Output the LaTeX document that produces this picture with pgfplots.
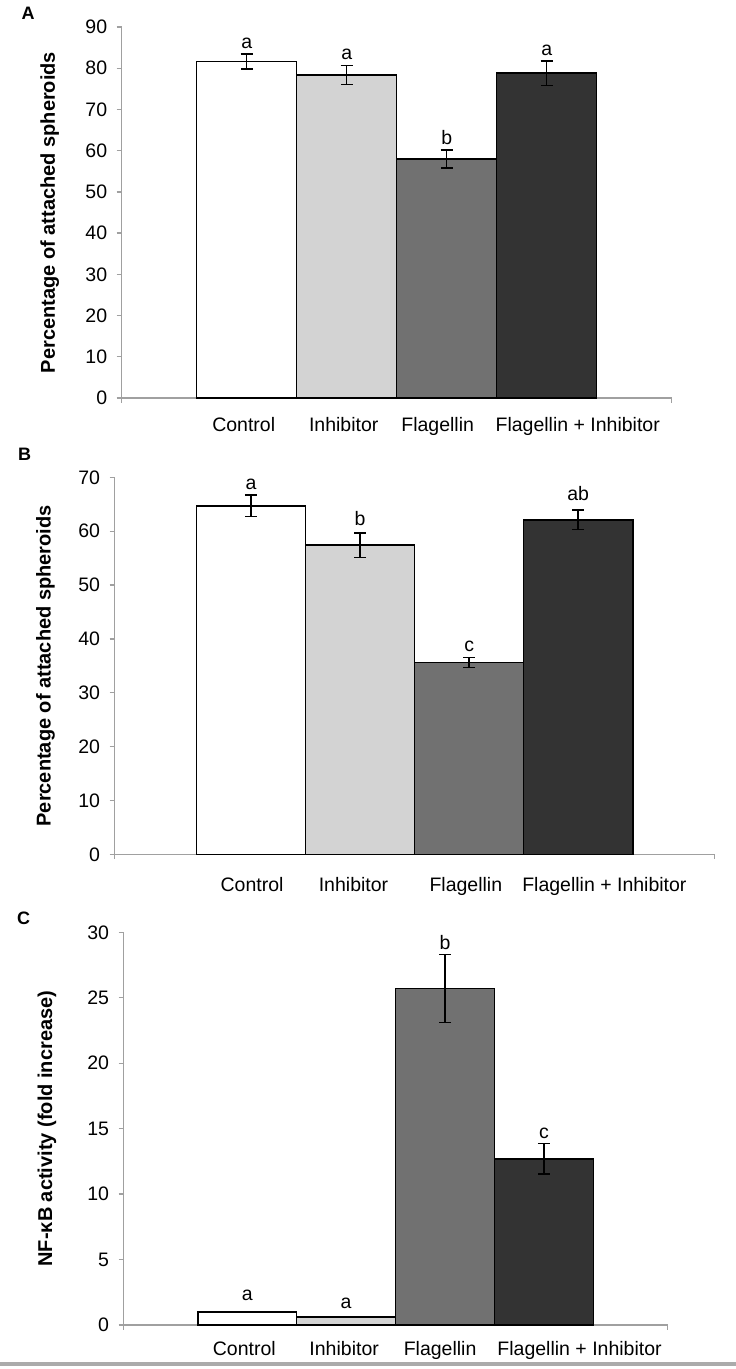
\documentclass[border=0pt]{standalone}
\usepackage{fontspec}
\setmainfont{Liberation Sans}
\usepackage{pgfplots}
\pgfplotsset{compat=1.18}
\definecolor{cCtl}{HTML}{FFFFFF}
\definecolor{cInh}{HTML}{D3D3D3}
\definecolor{cFla}{HTML}{717171}
\definecolor{cFI}{HTML}{333333}
\definecolor{axgray}{HTML}{A0A0A0}
\newcommand{\tf}{\fontsize{19.5}{20}\selectfont}
\pgfplotsset{
  panel/.style={
    scale only axis, anchor=south west, clip=false,
    axis lines*=left,
    axis line style={axgray, line width=1.3pt},
    xmin=-1.25, xmax=4.25, ymin=0,
    xticklabels={Control, Inhibitor, Flagellin, Flagellin + Inhibitor},
    x tick style={draw=none},
    y tick style={axgray, line width=1.3pt},
    major tick length=5pt, tick align=outside,
    /pgf/number format/assume math mode=true,
    ticklabel style={font=\tf},
    y tick label style={xshift=-6pt},
    ylabel={},
    ylabel style={anchor=center, font=\bfseries\fontsize{20}{22}\selectfont},
  },
  bar/.style={ybar, bar width=1, bar shift=0pt, fill=#1, draw=black, line width=1.5pt,
    error bars/.cd, y dir=both, y explicit,
    error bar style={line width=1.5pt, black},
    error mark options={rotate=90, mark size=6pt, line width=1.5pt, black}},
}
\tikzset{
  lab/.style={anchor=south, font=\tf, yshift=#1},
  lab/.default=2pt,
}
\begin{document}
\begin{tikzpicture}
\path[use as bounding box] (0,0) rectangle (736pt,1369pt);

% Panel A
\begin{axis}[panel, at={(121.7pt,971pt)}, width=550pt, height=371pt,
  ymax=90, ytick={0,10,...,90}, xtick={-0.03,0.97,1.91,3.31},
  x tick label style={yshift=-11pt},
  ylabel={Percentage of attached spheroids},
  ylabel style={at={(axis description cs:-0.131,0.5)}}]
\addplot[bar=cCtl] coordinates {(0,81.6) +- (0,1.8)};
\addplot[bar=cInh] coordinates {(1,78.4) +- (0,2.3)};
\addplot[bar=cFla] coordinates {(2,58.0) +- (0,2.2)};
\addplot[bar=cFI]  coordinates {(3,78.8) +- (0,3.0)};
\node[lab] at (0,83.4) {a};
\node[lab] at (1,80.7) {a};
\node[lab] at (2,60.2) {b};
\node[lab] at (3,81.8) {a};
\draw[axgray, line width=1.3pt] (-1.25,0) -- ++(0pt,-5pt) (4.25,0) -- ++(0pt,-5pt);
\end{axis}

% Panel B
\begin{axis}[panel, at={(114.6pt,514.7pt)}, width=600pt, height=377pt,
  ymax=70, ytick={0,10,...,70}, xtick={0.01,0.94,1.97,3.24},
  x tick label style={yshift=-15pt},
  ylabel={Percentage of attached spheroids},
  ylabel style={at={(axis description cs:-0.115,0.5)}}]
\addplot[bar=cCtl] coordinates {(0,64.7) +- (0,2.0)};
\addplot[bar=cInh] coordinates {(1,57.4) +- (0,2.3)};
\addplot[bar=cFla] coordinates {(2,35.6) +- (0,0.9)};
\addplot[bar=cFI]  coordinates {(3,62.1) +- (0,1.8)};
\node[lab] at (0,66.7) {a};
\node[lab=4pt] at (1,59.7) {b};
\node[lab] at (2,36.5) {c};
\node[lab=6pt] at (3,63.9) {ab};
\draw[axgray, line width=1.3pt] (-1.25,0) -- ++(0pt,-5pt) (4.25,0) -- ++(0pt,-5pt);
\end{axis}

% Panel C
\begin{axis}[panel, at={(123.6pt,44pt)}, width=544pt, height=392.7pt,
  ymax=30, ytick={0,5,...,30}, xtick={-0.03,0.98,1.95,3.36},
  x tick label style={yshift=-8pt},
  ylabel={NF-κB activity (fold increase)},
  ylabel style={at={(axis description cs:-0.141,0.5)}}]
\addplot[bar=cCtl] coordinates {(0,1.0) +- (0,0.05)};
\addplot[bar=cInh] coordinates {(1,0.6) +- (0,0.04)};
\addplot[bar=cFla] coordinates {(2,25.7) +- (0,2.6)};
\addplot[bar=cFI]  coordinates {(3,12.7) +- (0,1.17)};
\node[lab=7pt] at (0,1.05) {a};
\node[lab=4pt] at (1,0.64) {a};
\node[lab=1pt] at (2,28.3) {b};
\node[lab=1pt] at (3,13.9) {c};
\draw[axgray, line width=1.3pt] (-1.25,0) -- ++(0pt,-5pt) (4.25,0) -- ++(0pt,-5pt);
\end{axis}

\node[font=\bfseries\fontsize{18}{18}\selectfont] at (28pt,1356pt) {A};
\node[font=\bfseries\fontsize{18}{18}\selectfont] at (24.5pt,915pt) {B};
\node[font=\bfseries\fontsize{18}{18}\selectfont] at (23.6pt,451pt) {C};
\draw[black!33, line width=3.5pt] (0,5pt) -- (736pt,5pt);
\end{tikzpicture}
\end{document}
